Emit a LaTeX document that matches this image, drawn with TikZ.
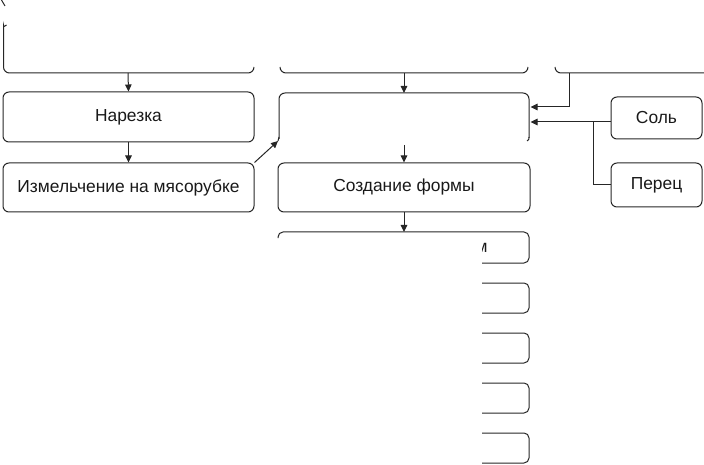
\documentclass[tikz,border=0pt]{standalone}
\usepackage{fontspec}
\setmainfont{Liberation Sans}
\usetikzlibrary{arrows.meta}
\begin{document}
\begin{tikzpicture}[x=1pt,y=-1pt,
  line width=1pt,
  color=black!85,
  arr/.style={-{Triangle[length=7pt,width=6.5pt]}},
  box/.style={draw,rounded corners=6pt,inner sep=0pt,font=\fontsize{17.4}{20}\selectfont,text=black!90},
  part/.style={rounded corners=6pt}]
\useasboundingbox (0,0) rectangle (704,465);
% partial top boxes
\draw (1.5,0) .. controls (3,2.5) .. (5,6);
\draw[part] (6.5,25) .. controls (3.5,27) .. (3.5,31) -- (3.5,73) -- (254,73) -- (254,67);
\draw[part] (280,67) -- (280,73) -- (528,73) -- (528,67);
\draw[part] (555,67) -- (555,73) -- (705,73);
\coordinate (t1) at (128,73);
\coordinate (t2) at (404,73);
\coordinate (t3) at (569,73);
% nodes
\node[box,minimum width=251pt,minimum height=50pt] (nar) at (128.5,117) {Нарезка};
\node[box,minimum width=251pt,minimum height=49pt] (izm) at (128.5,187.5) {Измельчение на мясорубке};
\node[box,minimum width=252pt,minimum height=49pt] (soz) at (404,187.5) {Создание формы};
\node[box,minimum width=91pt,minimum height=42pt] (sol) at (656.5,118) {Соль};
\node[box,minimum width=91pt,minimum height=44pt] (per) at (656.5,185) {Перец};
% middle partial box
\draw[part] (279,139) -- (279,93) -- (529,93) -- (529,138);
\draw (529,137) .. controls (529,139.5) .. (527,141);
\draw (279,137) .. controls (279,139.5) .. (278,141);
\coordinate (mtop) at (404,93);
\coordinate (mbot) at (404,145);
\coordinate (mleft) at (278,141);
\coordinate (min1) at (530.5,107);
\coordinate (min2) at (530.5,122);
\coordinate (sj) at (593,122);
% bottom partial box
\draw[rounded corners=5pt] (278,238) -- (278,232) -- (529,232) -- (529,263) -- (482,263);
\draw[rounded corners=5pt] (482,283) -- (529,283) -- (529,313) -- (482,313);
\draw[rounded corners=5pt] (482,333) -- (529,333) -- (529,363) -- (482,363);
\draw[rounded corners=5pt] (482,383) -- (529,383) -- (529,413) -- (482,413);
\draw[rounded corners=5pt] (482,433) -- (529,433) -- (529,463) -- (482,463);
\coordinate (btop) at (404,232);
\begin{scope}
\clip (482,236) rectangle (500,260);
\node[anchor=base east,inner sep=0pt,font=\fontsize{17.4}{20}\selectfont,text=black!90] (m) at (488,252) {м};
\end{scope}
% connectors
\draw[arr] (t1) -- (nar.north);
\draw[arr] (nar.south) -- (izm.north);
\draw[arr] (izm.north east) -- (mleft);
\draw[arr] (t2) -- (mtop);
\draw[arr] (mbot) -- (soz.north);
\draw[arr] (soz.south) -- (btop);
\draw[arr] (t3) |- (min1);
\draw[arr] (sol.west |- sj) -- (min2);
\draw (sj) |- (per.west);
\end{tikzpicture}
\end{document}
